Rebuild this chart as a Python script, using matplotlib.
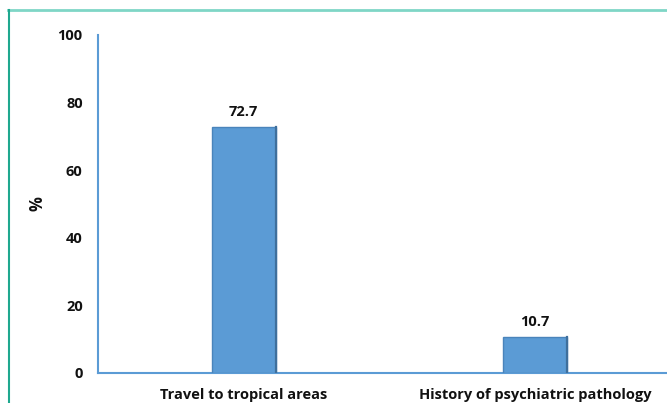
import matplotlib
matplotlib.use("Agg")
import matplotlib.pyplot as plt
from matplotlib.lines import Line2D

categories = ['Travel to tropical areas', 'History of psychiatric pathology']
values = [72.7, 10.7]
yticks = [0, 20, 40, 60, 80, 100]

plt.rcParams['font.family'] = ['Open Sans', 'DejaVu Sans']
plt.rcParams['font.weight'] = 'bold'

fig = plt.figure(figsize=(6.67, 4.03), dpi=100)
# plot area: left spine at x=98px, top (100) at y=35px, zero at y=373px
ax = fig.add_axes([98 / 667, 1 - 373 / 403, 583 / 667, 338 / 403])

x = range(len(categories))
bars = ax.bar(x, values, width=0.22, color='#5b9bd5', edgecolor='#4a84bb',
              linewidth=1.0, zorder=3)
# darker right edge for the bevel look
for b in bars:
    ax.plot([b.get_x() + b.get_width()] * 2, [0, b.get_height()],
            color='#3f6f9c', lw=1.6, zorder=4)

for xi, v in zip(x, values):
    ax.text(xi, v + 2.3, f'{v:.1f}', ha='center', va='bottom',
            fontsize=10.5, fontweight='bold', color='#111111')

ax.set_xlim(-0.5, 1.5)
ax.set_ylim(0, 100)
ax.set_yticks(yticks)
ax.set_xticks(list(x))
ax.set_xticklabels(categories, fontsize=10.5, fontweight='bold', color='#111111')
ax.tick_params(axis='y', length=0, pad=11, labelsize=10.5, labelcolor='#111111')
ax.tick_params(axis='x', length=0, pad=11)
ax.set_ylabel('%', fontsize=12, fontweight='bold', color='#111111')
ax.yaxis.set_label_coords(-0.088, 0.5)

for side in ['top', 'right']:
    ax.spines[side].set_visible(False)
ax.spines['left'].set_color('#5b9bd5')
ax.spines['bottom'].set_color('#5b9bd5')
ax.spines['left'].set_linewidth(1.5)
ax.spines['bottom'].set_linewidth(1.5)

# outer frame lines along top and left edges
fig.add_artist(Line2D([8 / 667, 1], [1 - 10 / 403] * 2, color='#7fd6c6', lw=2))
fig.add_artist(Line2D([8.5 / 667] * 2, [0, 1 - 10 / 403], color='#1fa88f', lw=1.5))

fig.savefig('out.png', dpi=100)
